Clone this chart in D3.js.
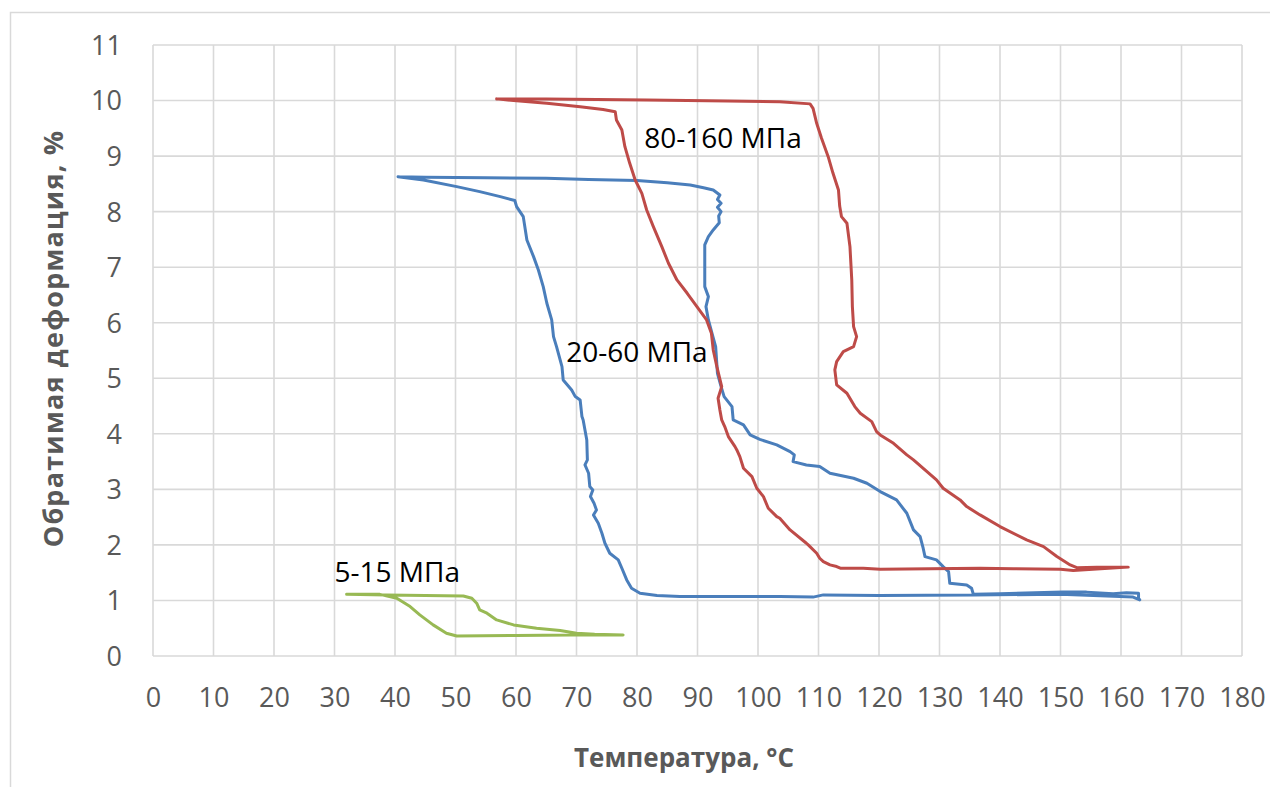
<!DOCTYPE html>
<html>
<head>
<meta charset="utf-8">
<script src="https://cdn.jsdelivr.net/npm/d3@7"></script>
<style>
  html, body { margin: 0; padding: 0; background: #fff; }
  svg { display: block; font-family: "Open Sans", "Liberation Sans", sans-serif; }
</style>
</head>
<body>
<svg id="chart" width="1270" height="787"></svg>
<script>
// ---- data ----
const xTicks = [0,10,20,30,40,50,60,70,80,90,100,110,120,130,140,150,160,170,180];
const yTicks = [0,1,2,3,4,5,6,7,8,9,10,11];

// 20-60 MPa (blue): temperature, strain
const blueT = [40.5,45,55,65,72,80,85,88.8,91,92.6,93.7,93.3,93.9,93.3,93.9,93.5,93.6,92.6,91.8,91.2,91.2,91.2,91.8,91.4,91.8,92.4,93.0,93.3,93.9,94.4,95.7,95.9,97.6,98.7,100.3,103.1,105.3,106.0,105.8,108.0,110.2,111.9,115.8,118.0,120.2,122.9,124.6,125.7,126.8,127.3,127.6,129.5,130.6,131.5,131.7,134.5,135.3,135.6,140,150.4,154.3,158.7,160.9,162.9,162.9,163.1,
  162,150,135.6,120,110.8,109.1,103.6,95,87.1,83.3,80.5,79.1,78.3,77.5,76.9,75.5,74.7,74.2,73.6,72.8,73.3,72.9,72.3,72.7,72.2,72.0,71.4,71.8,71.7,71.1,70.9,70.6,69.8,69.2,67.8,67.6,66.7,66.2,65.9,65.1,64.5,63.7,62.9,61.8,61.2,60.1,59.8,57.4,54.0,50.2,44.7,40.5];
const blueS = [8.63,8.62,8.61,8.60,8.58,8.56,8.52,8.48,8.43,8.39,8.30,8.22,8.15,8.08,8.00,7.92,7.80,7.67,7.55,7.40,7.30,6.65,6.47,6.29,6.05,5.81,5.57,5.09,4.85,4.67,4.49,4.25,4.16,3.98,3.90,3.80,3.68,3.62,3.50,3.44,3.41,3.29,3.20,3.11,2.96,2.81,2.57,2.27,2.15,1.94,1.79,1.73,1.61,1.52,1.31,1.28,1.22,1.11,1.12,1.15,1.15,1.12,1.14,1.13,1.04,1.01,
  1.06,1.11,1.10,1.09,1.10,1.06,1.07,1.07,1.07,1.09,1.13,1.22,1.37,1.58,1.73,1.85,2.03,2.21,2.39,2.54,2.63,2.75,2.87,2.99,3.05,3.29,3.44,3.53,3.89,4.25,4.31,4.61,4.67,4.79,4.97,5.21,5.57,5.75,6.05,6.35,6.65,6.95,7.19,7.49,7.91,8.09,8.20,8.27,8.36,8.45,8.57,8.63];

// 80-160 MPa (red)
const redT = [56.8,65,81.6,95,103.6,108.6,109.1,109.7,110.5,111.6,112.4,113.3,113.5,113.8,114.7,115.2,115.5,115.6,115.8,116.3,115.8,114.1,113.0,112.7,113.0,114.7,116.0,116.9,118.8,119.6,120.2,122.4,124.6,125.7,129.5,130.6,133.4,134.5,136.7,140.0,144.4,147.2,149.4,151.6,152.7,156,161.2,
  152.1,150,142.2,136.7,120.2,117.4,113.6,113.0,111.9,110.8,110.2,109.7,108.3,108.0,105.3,103.6,103.1,101.7,100.9,99.8,99.0,97.6,97.0,96.5,96.2,95.1,94.5,94.0,93.7,93.4,94.0,93.2,92.6,92.3,91.5,89.9,88.3,86.6,85.2,84.1,82.7,81.6,80.8,79.7,78.8,78.0,77.5,76.6,76.4,74.4,70.6,65.1,59.6,56.8];
const redS = [10.03,10.03,10.01,9.99,9.98,9.94,9.86,9.59,9.32,8.99,8.69,8.39,8.10,7.91,7.79,7.37,6.77,6.29,5.93,5.75,5.57,5.48,5.30,5.15,4.88,4.73,4.49,4.37,4.22,4.04,3.98,3.83,3.62,3.53,3.17,3.02,2.81,2.69,2.54,2.33,2.09,1.97,1.79,1.64,1.59,1.60,1.60,
  1.54,1.56,1.57,1.58,1.56,1.58,1.58,1.61,1.64,1.70,1.76,1.85,2.00,2.03,2.27,2.48,2.51,2.66,2.87,3.02,3.23,3.38,3.59,3.71,3.77,3.95,4.13,4.25,4.43,4.64,4.85,5.21,5.51,5.81,6.05,6.29,6.53,6.77,7.07,7.37,7.73,8.03,8.33,8.57,8.87,9.17,9.47,9.65,9.80,9.84,9.89,9.95,10.00,10.03];

// 5-15 MPa (green)
const greenT = [32.0,38.6,45,51.3,52.7,53.5,54.0,55.2,56.8,59.6,63.4,67.3,70.0,73,77.7,68.9,60,50.2,48.5,46.3,44.1,42.5,40.3,37.5,32.0];
const greenS = [1.11,1.10,1.09,1.08,1.04,0.95,0.83,0.77,0.65,0.56,0.50,0.46,0.41,0.39,0.38,0.38,0.37,0.36,0.41,0.56,0.74,0.89,1.04,1.11,1.11];

const seriesNames = ["20-60 МПа","80-160 МПа","5-15 МПа"];
const labelT = [68.3, 81.2, 30.0];
const labelS = [5.3, 9.15, 1.34];

const xTitle = "Температура, °C";
const yTitle = "Обратимая деформация, %";

// ---- layout ----
const svg = d3.select("#chart");
const L = 153, R = 1242, T = 45, B = 656;
const x = d3.scaleLinear().domain([0,180]).range([L,R]);
const y = d3.scaleLinear().domain([0,11]).range([B,T]);
const grid = "#d9d9d9", textCol = "#595959";

// outer chart border
svg.append("rect").attr("x",10.5).attr("y",12.5).attr("width",1300).attr("height",800)
  .attr("fill","none").attr("stroke",grid).attr("stroke-width",1.5);

// grid
svg.append("g").selectAll("line").data(xTicks).join("line")
  .attr("x1",d=>x(d)).attr("x2",d=>x(d)).attr("y1",T).attr("y2",B)
  .attr("stroke",grid).attr("stroke-width",1.6);
svg.append("g").selectAll("line").data(yTicks).join("line")
  .attr("x1",L).attr("x2",R).attr("y1",d=>y(d)).attr("y2",d=>y(d))
  .attr("stroke",grid).attr("stroke-width",1.6);

// axes (labels only)
const xAxis = d3.axisBottom(x).tickValues(xTicks).tickSize(0).tickPadding(0).tickFormat(d3.format("d"));
const gx = svg.append("g").attr("transform",`translate(0,${B})`).call(xAxis);
gx.select(".domain").remove();
gx.selectAll("text").attr("y",51).attr("dy",null).attr("font-size",27).attr("fill",textCol)
  .attr("font-family","'Open Sans', sans-serif");

const yAxis = d3.axisLeft(y).tickValues(yTicks).tickSize(0).tickPadding(0).tickFormat(d3.format("d"));
const gy = svg.append("g").attr("transform",`translate(${L},0)`).call(yAxis);
gy.select(".domain").remove();
gy.selectAll("text").attr("x",-31).attr("dy","0.35em").attr("font-size",27).attr("fill",textCol)
  .attr("font-family","'Open Sans', sans-serif");

// axis titles
svg.append("text").attr("x",684).attr("y",767).attr("text-anchor","middle")
  .attr("font-size",26).attr("font-weight","bold").attr("fill",textCol).text(xTitle);
svg.append("text").attr("transform",`translate(63,${(T+B)/2 - 12}) rotate(-90)`).attr("text-anchor","middle")
  .attr("font-size",27).attr("letter-spacing",1.2).attr("font-weight","bold").attr("fill",textCol).text(yTitle);

// series
const colors = ["#4a7ebb","#be4b48","#98b954"];
const series = [
  {t: blueT, s: blueS},
  {t: redT, s: redS},
  {t: greenT, s: greenS}
];
const line = d3.line().x(d=>x(d[0])).y(d=>y(d[1]));
series.forEach((ser,i)=>{
  const pts = ser.t.map((t,k)=>[t, ser.s[k]]);
  svg.append("path").datum(pts).attr("d",line).attr("fill","none")
    .attr("stroke",colors[i]).attr("stroke-width",3).attr("stroke-linejoin","round").attr("stroke-linecap","round");
});

// series labels
seriesNames.forEach((n,i)=>{
  svg.append("text").attr("x",x(labelT[i])).attr("y",y(labelS[i]))
    .attr("font-size",28).attr("fill","#000").text(n);
});
</script>
</body>
</html>
